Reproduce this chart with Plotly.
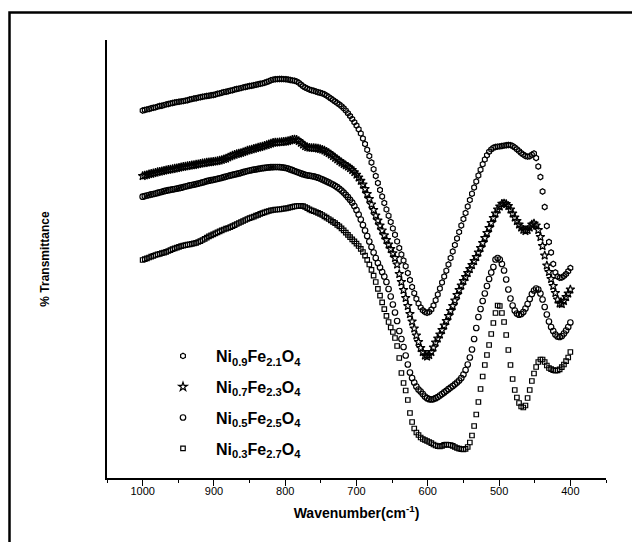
import plotly.graph_objects as go

# Wavenumber sampling grid (cm^-1), 1000 -> 400 every 3 cm^-1
wavenumber = list(range(1000, 399, -3))

# % Transmittance (arbitrary, offset curves)
ni09_fe21 = [
    367.5, 368.0, 368.6, 369.0, 369.7, 370.3, 370.6, 371.4, 372.0, 372.3,
    372.9, 373.6, 374.0, 374.6, 375.0, 375.5, 375.9, 376.2, 376.6, 376.9,
    377.4, 377.8, 378.5, 378.9, 379.5, 379.8, 380.4, 380.8, 381.3, 381.6,
    382.0, 382.3, 382.7, 383.0, 383.5, 384.2, 384.6, 385.3, 385.9, 386.3,
    386.8, 387.4, 387.8, 388.5, 389.0, 389.4, 389.9, 390.6, 391.0, 391.5,
    392.0, 392.3, 392.8, 393.3, 393.7, 394.2, 394.6, 395.2, 396.0, 396.8,
    397.7, 398.4, 398.7, 398.9, 399.0, 399.0, 398.9, 398.8, 398.5, 398.0,
    397.6, 397.2, 396.6, 395.2, 393.5, 391.8, 390.5, 389.4, 388.4, 387.8,
    387.2, 386.5, 385.8, 385.2, 384.6, 383.7, 382.4, 381.0, 379.5, 378.0,
    376.5, 375.0, 373.5, 371.8, 369.7, 367.4, 364.8, 362.0, 359.0, 355.8,
    352.5, 348.8, 344.6, 339.5, 334.0, 328.2, 322.0, 315.5, 308.8, 302.0,
    295.0, 288.0, 281.5, 275.0, 268.6, 262.3, 256.0, 249.6, 243.2, 236.6,
    230.0, 223.5, 217.5, 211.8, 205.0, 198.0, 191.0, 184.8, 179.2, 174.4,
    170.6, 167.8, 166.0, 165.3, 166.0, 168.5, 172.5, 177.8, 183.5, 189.5,
    195.5, 201.5, 207.3, 213.5, 220.0, 226.5, 233.0, 239.5, 246.0, 252.5,
    259.0, 265.0, 271.5, 278.0, 284.3, 290.5, 296.5, 302.5, 308.3, 313.8,
    318.6, 322.8, 326.2, 328.6, 330.2, 331.0, 331.4, 331.6, 332.0, 332.4,
    332.8, 333.0, 332.9, 332.0, 330.6, 328.8, 326.9, 325.0, 323.4, 322.0,
    321.4, 321.8, 323.3, 324.5, 320.0, 311.5, 301.0, 286.5, 271.0, 252.0,
    236.0, 225.5, 214.0, 205.5, 201.5, 200.2, 200.5, 202.0, 204.0, 206.8,
    210.0,
]

ni07_fe23 = [
    302.0, 302.6, 303.1, 303.8, 304.2, 304.8, 305.3, 305.9, 306.3, 306.8,
    307.3, 307.8, 308.2, 308.6, 309.0, 309.4, 309.8, 310.3, 310.8, 311.2,
    311.6, 312.0, 312.3, 312.7, 313.0, 313.5, 313.8, 314.3, 314.7, 315.0,
    315.4, 315.7, 316.0, 316.3, 316.6, 317.0, 317.5, 318.1, 318.8, 319.5,
    320.6, 321.6, 322.5, 323.2, 323.9, 324.5, 325.1, 325.8, 326.6, 327.4,
    328.0, 328.6, 329.2, 329.8, 330.4, 331.0, 331.6, 332.3, 333.0, 333.7,
    334.5, 335.2, 335.5, 335.6, 335.8, 336.0, 336.2, 336.5, 337.0, 337.6,
    338.3, 338.6, 338.2, 337.0, 335.2, 333.5, 331.8, 330.8, 330.3, 330.1,
    330.0, 329.8, 329.5, 329.0, 328.3, 327.4, 326.2, 325.0, 323.5, 321.8,
    320.2, 318.6, 317.0, 315.5, 314.0, 312.6, 311.3, 309.8, 308.0, 305.8,
    303.3, 300.5, 297.2, 293.5, 289.0, 284.0, 279.0, 273.6, 268.0, 262.5,
    257.5, 252.5, 247.6, 242.7, 238.0, 233.5, 229.0, 224.8, 220.0, 213.5,
    204.0, 196.0, 188.0, 180.0, 172.0, 164.0, 156.5, 149.5, 142.5, 136.0,
    130.0, 126.0, 122.5, 121.5, 123.0, 126.0, 130.5, 135.5, 139.5, 143.5,
    148.0, 152.5, 157.0, 162.0, 167.0, 172.0, 177.5, 183.0, 188.0, 192.5,
    197.0, 201.0, 205.0, 209.0, 213.0, 217.0, 221.0, 225.5, 230.0, 235.0,
    240.0, 245.0, 250.0, 255.0, 260.0, 264.5, 268.5, 271.5, 274.3, 274.6,
    274.0, 272.0, 268.5, 264.5, 260.5, 257.0, 253.5, 250.5, 248.2, 247.0,
    248.0, 250.5, 253.5, 254.5, 252.5, 248.0, 241.0, 232.0, 222.5, 212.5,
    206.0, 199.0, 192.0, 185.0, 178.5, 174.5, 174.0, 177.0, 181.0, 184.5,
    188.5,
]

ni05_fe25 = [
    281.3, 281.9, 282.5, 283.0, 283.6, 284.0, 284.5, 285.1, 285.7, 286.2,
    286.8, 287.3, 287.8, 288.2, 288.6, 289.0, 289.4, 289.8, 290.3, 290.9,
    291.5, 292.0, 292.6, 293.0, 293.4, 293.9, 294.4, 295.0, 295.6, 296.2,
    296.8, 297.3, 297.8, 298.2, 298.7, 299.2, 299.7, 300.2, 300.8, 301.4,
    302.0, 302.6, 303.1, 303.6, 304.1, 304.6, 305.2, 305.8, 306.4, 307.0,
    307.5, 307.9, 308.3, 308.7, 309.1, 309.5, 309.8, 310.1, 310.4, 310.6,
    310.8, 310.9, 311.0, 311.0, 310.9, 310.7, 310.4, 310.0, 309.4, 308.6,
    307.8, 307.0, 306.2, 305.4, 304.6, 303.8, 303.2, 302.7, 302.3, 302.0,
    301.6, 301.0, 300.3, 299.5, 298.6, 297.6, 296.6, 295.6, 294.5, 293.4,
    292.2, 290.8, 289.2, 287.4, 285.4, 283.2, 280.8, 278.2, 275.4, 272.0,
    268.0, 263.5, 258.5, 253.0, 247.5, 242.0, 236.5, 231.0, 225.5, 220.0,
    215.0, 210.5, 206.0, 201.5, 196.0, 189.0, 181.5, 173.5, 165.5, 157.0,
    147.0, 139.0, 131.0, 122.5, 113.5, 105.5, 100.0, 95.5, 91.5, 88.5,
    86.5, 84.0, 81.5, 79.8, 78.8, 78.5, 78.9, 79.8, 81.0, 82.5,
    84.0, 85.6, 87.2, 88.8, 90.4, 92.0, 93.7, 95.5, 97.5, 100.0,
    103.5, 108.0, 113.5, 120.5, 128.5, 139.0, 150.0, 161.0, 169.0, 177.0,
    184.5, 192.0, 199.0, 205.5, 211.0, 218.5, 220.0, 218.5, 214.0, 207.5,
    198.5, 188.5, 179.5, 172.5, 167.5, 164.5, 163.3, 164.0, 166.0, 169.5,
    174.0, 179.0, 184.0, 187.5, 189.5, 188.5, 184.5, 178.5, 171.0, 163.5,
    156.5, 151.0, 147.0, 143.5, 141.5, 141.0, 142.0, 144.5, 147.5, 151.0,
    155.5,
]

ni03_fe27 = [
    218.0, 218.8, 219.6, 220.5, 221.4, 222.2, 223.0, 223.6, 224.2, 224.8,
    225.4, 226.2, 227.0, 227.9, 228.8, 229.6, 230.4, 231.1, 231.8, 232.4,
    232.9, 233.3, 233.7, 234.1, 234.6, 235.2, 236.0, 236.9, 238.0, 239.2,
    240.4, 241.6, 242.6, 243.6, 244.6, 245.6, 246.6, 247.6, 248.5, 249.3,
    250.0, 250.8, 251.8, 252.9, 254.0, 255.0, 256.0, 257.0, 258.0, 259.0,
    259.8, 260.6, 261.4, 262.3, 263.2, 264.1, 264.8, 265.6, 266.4, 267.0,
    267.6, 268.0, 268.3, 268.5, 268.7, 269.0, 269.3, 269.6, 270.0, 270.6,
    271.2, 271.7, 272.0, 272.2, 272.2, 271.8, 271.0, 269.8, 268.6, 267.6,
    266.8, 266.0, 265.2, 264.2, 263.0, 261.7, 260.4, 259.0, 257.6, 256.2,
    254.8, 253.2, 251.6, 249.7, 247.6, 245.4, 243.2, 240.8, 238.6, 236.6,
    234.4, 232.0, 229.2, 226.0, 222.4, 218.2, 213.5, 208.2, 202.4, 196.0,
    189.2, 182.4, 175.6, 168.8, 162.2, 156.0, 150.5, 146.0, 140.0, 132.0,
    120.0, 105.0, 95.0, 87.5, 78.0, 65.0, 56.0, 49.5, 45.5, 43.0,
    40.5, 39.0, 38.0, 37.0, 36.0, 34.8, 33.5, 32.5, 31.8, 31.5,
    32.2, 33.2, 33.5, 33.2, 33.0, 32.2, 31.0, 30.0, 29.3, 28.8,
    28.6, 29.2, 31.0, 35.5, 42.5, 52.0, 63.5, 76.0, 89.0, 101.5,
    113.0, 123.0, 133.0, 144.0, 155.0, 165.0, 172.5, 172.0, 165.0, 156.0,
    143.0, 128.0, 113.0, 99.0, 88.0, 80.5, 75.0, 71.5, 70.5, 72.5,
    80.0, 88.0, 97.0, 104.5, 111.0, 116.0, 118.5, 118.5, 116.0, 112.5,
    110.0, 108.8, 107.8, 107.3, 107.6, 108.7, 110.8, 113.5, 116.8, 120.5,
    126.0,
]

series_names = [
    "Ni<sub>0.9</sub>Fe<sub>2.1</sub>O<sub>4</sub>",
    "Ni<sub>0.7</sub>Fe<sub>2.3</sub>O<sub>4</sub>",
    "Ni<sub>0.5</sub>Fe<sub>2.5</sub>O<sub>4</sub>",
    "Ni<sub>0.3</sub>Fe<sub>2.7</sub>O<sub>4</sub>",
]
series_values = [ni09_fe21, ni07_fe23, ni05_fe25, ni03_fe27]
series_symbols = ["hexagon-open", "star-open", "circle-open", "square-open"]
series_sizes = [5.5, 6.5, 5.5, 4.5]

fig = go.Figure()
for name, vals, sym, sz in zip(series_names, series_values, series_symbols, series_sizes):
    fig.add_trace(go.Scatter(
        x=wavenumber, y=vals, mode="markers", name=name, legendgroup=name,
        marker=dict(symbol=sym, size=sz, color="black",
                    line=dict(width=1.2, color="black")),
    ))

# page body adds an 8px offset to the figure
OFF = 8
W, H = 640 - OFF, 542 - OFF
PL, PR, PT, PB = 107, 606, 40, 478          # plot area in window pixels
L, T = PL - OFF, PT - OFF
R, B = W - (PR - OFF), H - (PB - OFF)
pw, ph = PR - PL, PB - PT

def px(x):
    return (x - PL) / pw

def py(y):
    return 1 - (y - PT) / ph

# outer frame: only its left and top edges fall inside the window
fx0, fy0 = px(9.5), py(12.5)
frame_path = f"M {fx0},{py(600)} L {fx0},{fy0} L {px(700)},{fy0}"

fig.update_layout(
    width=W, height=H,
    margin=dict(l=L, r=R, t=T, b=B),
    paper_bgcolor="white", plot_bgcolor="white",
    font=dict(family="Liberation Sans, Arial, sans-serif", color="black"),
    showlegend=True,
    legend=dict(
        x=px(150), y=py(339), xanchor="left", yanchor="top",
        bgcolor="rgba(0,0,0,0)", itemwidth=56, traceorder="grouped",
        tracegroupgap=7,
        font=dict(family="Liberation Sans, Arial, sans-serif", size=16,
                  color="black", weight="bold"),
    ),
    xaxis=dict(
        range=[1050, 350], showgrid=False, zeroline=False,
        showline=True, linecolor="black", linewidth=1.8,
        ticks="outside", ticklen=6, tickwidth=1.2, tickcolor="black",
        tick0=0, dtick=100, ticklabelstandoff=-4,
        minor=dict(ticks="outside", ticklen=3, tickwidth=1.2, tickcolor="black",
                   tick0=0, dtick=50, showgrid=False),
        tickfont=dict(size=11, color="black"),
        title=dict(text="Wavenumber(cm<sup>-1</sup>)", standoff=12,
                   font=dict(size=14, color="black", weight="bold")),
    ),
    yaxis=dict(
        range=[0, 438], showgrid=False, zeroline=False,
        showline=True, linecolor="black", linewidth=1.8,
        ticks="", showticklabels=False,
        title=dict(text="% Transmittance", standoff=53,
                   font=dict(size=12, color="black", weight="bold")),
    ),
    shapes=[dict(
        type="path", xref="paper", yref="paper", path=frame_path,
        line=dict(color="black", width=2.5), layer="above",
    )],
)

fig.write_html("out.html")
